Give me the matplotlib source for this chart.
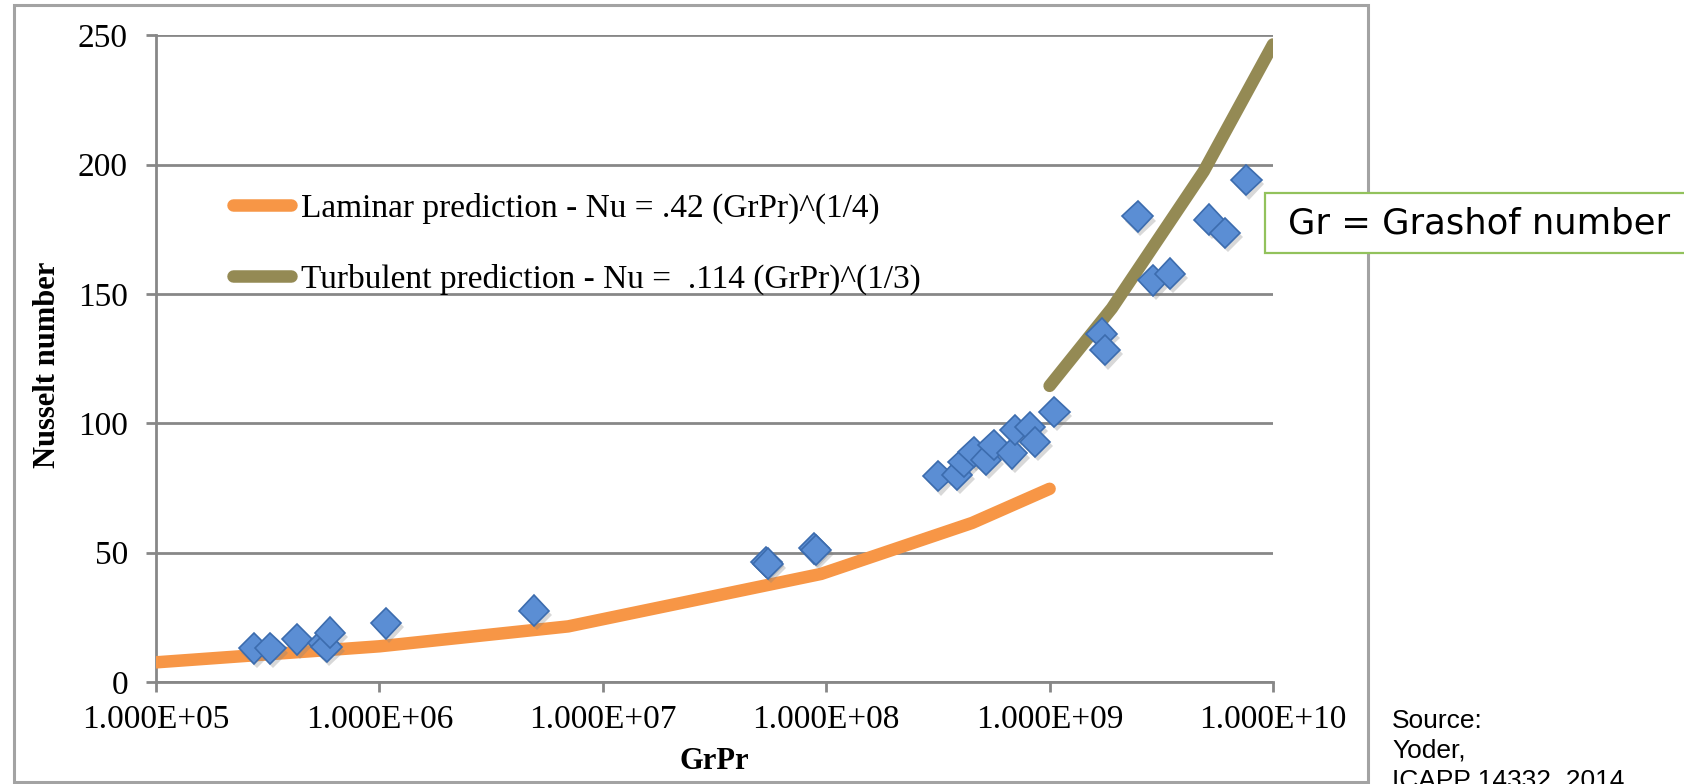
import matplotlib
matplotlib.use("Agg")
import matplotlib.pyplot as plt
import matplotlib.patheffects as pe
from matplotlib.patches import Rectangle
from matplotlib.ticker import FixedLocator, FuncFormatter, NullLocator

# measured Nusselt numbers vs GrPr
grpr_data = [2.74e5, 3.25e5, 4.28e5, 5.6e5, 5.8e5, 6.0e5, 1.07e6, 4.93e6,
             5.4e7, 5.5e7, 8.8e7, 9.0e7,
             3.18e8, 3.85e8, 4.12e8, 4.57e8, 5.19e8, 5.61e8, 6.78e8, 7.02e8,
             8.19e8, 8.61e8, 1.05e9,
             1.71e9, 1.77e9, 2.48e9, 2.91e9, 3.45e9, 5.17e9, 6.09e9, 7.6e9]
nu_data = [13.0, 13.0, 16.5, 15.0, 13.7, 19.1, 22.7, 27.6,
           46.5, 45.8, 51.7, 51.0,
           79.6, 80.2, 85.1, 89.0, 86.0, 91.6, 88.4, 97.4,
           98.6, 92.9, 104.4,
           134.7, 128.3, 180.0, 155.3, 157.9, 178.8, 173.6, 194.0]

# correlation curves
lam_x = [1e5, 1e6, 7e6, 9.5e7, 4.5e8, 1e9]
lam_nu = [7.6, 13.8, 21.5, 41.8, 61.5, 74.7]
turb_x = [1e9, 1.9e9, 4.9e9, 1e10]
turb_nu = [114.5, 144.5, 197.5, 246.5]

lam_label = "Laminar prediction - Nu = .42 (GrPr)^(1/4)"
turb_label = "Turbulent prediction - Nu =  .114 (GrPr)^(1/3)"
xticks = [1e5, 1e6, 1e7, 1e8, 1e9, 1e10]
yticks = [0, 50, 100, 150, 200, 250]

GRID = "#878787"
SERIF = ["Liberation Serif", "DejaVu Serif"]

W, H = 1684, 784
fig = plt.figure(figsize=(W / 100, H / 100), dpi=100)
ax = fig.add_axes([156 / W, 1 - 682 / H, (1273 - 156) / W, (682 - 35.4) / H])

ax.plot(lam_x, lam_nu, color="#F79646", lw=9, solid_capstyle="round",
        label=lam_label, zorder=3)
ax.plot(turb_x, turb_nu, color="#948A54", lw=9, solid_capstyle="round",
        label=turb_label, zorder=3)
ax.plot(grpr_data, nu_data, ls="none", marker="D", ms=15.5,
        mfc="#5B8ED4", mec="#3C6CAE", mew=1.2, zorder=4,
        path_effects=[pe.SimplePatchShadow(offset=(2, -3), shadow_rgbFace="#808080", alpha=0.3),
                      pe.Normal()])

ax.set_xscale("log")
ax.set_xlim(1e5, 1e10)
ax.set_ylim(0, 250)
ax.xaxis.set_major_locator(FixedLocator(xticks))
ax.xaxis.set_minor_locator(NullLocator())
ax.xaxis.set_major_formatter(FuncFormatter(lambda v, p: f"{v:.3E}"))
ax.set_yticks(yticks)

ax.grid(axis="y", color=GRID, lw=2)
ax.set_axisbelow(True)
for s in ["top", "right"]:
    ax.spines[s].set_visible(False)
for s in ["left", "bottom"]:
    ax.spines[s].set_color(GRID)
    ax.spines[s].set_linewidth(2)

ax.tick_params(axis="both", direction="out", length=7.2, width=2, color=GRID,
               labelsize=24)
ax.tick_params(axis="x", pad=9)
ax.tick_params(axis="y", pad=13)
for lbl in ax.get_xticklabels() + ax.get_yticklabels():
    lbl.set_family(SERIF)

ax.set_xlabel("GrPr", family=SERIF, fontsize=22, fontweight="bold", va="center")
ax.xaxis.set_label_coords(0.5, (682 - 762) / 647)
ax.set_ylabel("Nusselt number", family=SERIF, fontsize=22, fontweight="bold", va="center")
ax.yaxis.set_label_coords((48 - 156) / 1117, 0.49)

ax.legend(loc="upper left", bbox_to_anchor=((233 - 156) / 1117, (682 - 192) / 647),
          frameon=False, prop={"family": SERIF, "size": 24},
          handlelength=1.75, handletextpad=0.3, labelspacing=1.2,
          borderpad=0, borderaxespad=0)

# outer chart border
fig.patches.append(Rectangle((14 / W, 2 / H), (1368 - 14) / W, (779 - 2) / H,
                             transform=fig.transFigure, fill=False,
                             edgecolor="#a3a3a3", lw=2.2, zorder=1))

# note box
fig.patches.append(Rectangle((1265 / W, 1 - 253 / H), 0.3, 60 / H,
                             transform=fig.transFigure, facecolor="white",
                             edgecolor="#92c25c", lw=1.6, zorder=5))
fig.text(1288 / W, 1 - 224 / H, "Gr = Grashof number", fontsize=25.5,
         family="DejaVu Sans", va="center", ha="left", zorder=6)

fig.text(1392 / W, 1 - 709 / H, "Source:\nYoder,\nICAPP 14332, 2014",
         fontsize=19, family="Liberation Sans", va="top", ha="left",
         linespacing=1.3)

fig.savefig("out.png", dpi=100)
